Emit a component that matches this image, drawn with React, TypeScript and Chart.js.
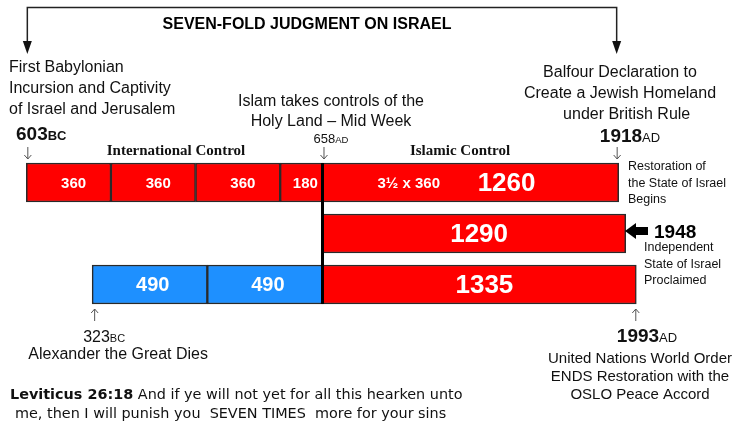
import React, { useEffect, useRef } from 'react';
import { Chart, registerables } from 'chart.js';
Chart.register(...registerables);

// Rows of the timeline (hidden category axis)
const rows = ['Seven Times', 'Abomination', 'Blessed'];
// Years in astronomical numbering: 603 BC = -602, 323 BC = -322
const segRow = [0, 0, 0, 0, 0, 1, 2, 2, 2];
const segStart = [-602, -242, 118, 478, 658, 658, -322, 168, 658];
const segEnd = [-242, 118, 478, 658, 1918, 1948, 168, 658, 1993];
const segLabel = ['360', '360', '360', '180', '1260', '1290', '490', '490', '1335'];
const segKind = ['red', 'red', 'red', 'red', 'red', 'red', 'blue', 'blue', 'red'];
const subLabel = ['', '', '', '', '3½ x 360', '', '', '', ''];

const X_MIN = -714;
const X_MAX = 2498;

const RED = '#FF0000';
const BLUE = '#1E90FF';
const SANS = '"Liberation Sans", Arial, sans-serif';
const SERIF = '"Liberation Serif", "Times New Roman", serif';
const TAHOMA = '"DejaVu Sans", Verdana, sans-serif';

const labelSize = [15, 15, 15, 15, 26, 26, 20, 20, 26];
const labelDx = [5, 5, 5, 4, 36, 5, 3, 3, 5];

type Part = { text: string; font: string };

function rich(ctx: CanvasRenderingContext2D, parts: Part[], x: number, y: number, align: 'left' | 'center' | 'right') {
  let w = 0;
  parts.forEach((p) => {
    ctx.font = p.font;
    w += ctx.measureText(p.text).width;
  });
  let sx = align === 'center' ? x - w / 2 : align === 'right' ? x - w : x;
  ctx.textAlign = 'left';
  parts.forEach((p) => {
    ctx.font = p.font;
    ctx.fillText(p.text, sx, y);
    sx += ctx.measureText(p.text).width;
  });
}

function thinArrow(ctx: CanvasRenderingContext2D, x: number, y1: number, y2: number) {
  ctx.save();
  ctx.strokeStyle = '#555';
  ctx.lineWidth = 1;
  ctx.beginPath();
  ctx.moveTo(x + 0.5, y1);
  ctx.lineTo(x + 0.5, y2);
  const d = y2 > y1 ? -1 : 1;
  ctx.moveTo(x + 0.5 - 3.5, y2 + d * 4);
  ctx.lineTo(x + 0.5, y2);
  ctx.lineTo(x + 0.5 + 3.5, y2 + d * 4);
  ctx.stroke();
  ctx.restore();
}

function lines(ctx: CanvasRenderingContext2D, texts: string[], x: number, y0: number, dy: number, font: string, align: CanvasTextAlign) {
  ctx.font = font;
  ctx.textAlign = align;
  texts.forEach((t, i) => ctx.fillText(t, x, y0 + i * dy));
}

const overlay = {
  id: 'overlay',
  afterDatasetsDraw(chart: any) {
    const ctx: CanvasRenderingContext2D = chart.ctx;
    const xs = chart.scales.x;
    ctx.save();
    // central dividing line at 658 AD
    const xm = xs.getPixelForValue(658);
    const m0 = chart.getDatasetMeta(4).data[0] as any;
    const m2 = chart.getDatasetMeta(8).data[2] as any;
    ctx.strokeStyle = '#000';
    ctx.lineWidth = 3;
    ctx.beginPath();
    ctx.moveTo(xm, m0.y - m0.height / 2);
    ctx.lineTo(xm, m2.y + m2.height / 2);
    ctx.stroke();
    // labels in bars
    ctx.fillStyle = '#fff';
    ctx.textBaseline = 'middle';
    segLabel.forEach((lab, i) => {
      const el = chart.getDatasetMeta(i).data[segRow[i]] as any;
      const cx = (el.x + el.base) / 2 + labelDx[i];
      ctx.font = `bold ${labelSize[i]}px ${SANS}`;
      ctx.textAlign = 'center';
      ctx.fillText(lab, cx, el.y + 1);
      if (subLabel[i]) {
        ctx.font = `bold 15px ${SANS}`;
        ctx.textAlign = 'left';
        ctx.fillText(subLabel[i], Math.min(el.x, el.base) + 55, el.y + 1);
      }
    });
    ctx.restore();
  },
  afterDraw(chart: any) {
    const ctx: CanvasRenderingContext2D = chart.ctx;
    const xs = chart.scales.x;
    ctx.save();
    ctx.textBaseline = 'alphabetic';
    ctx.fillStyle = '#000';

    // Title
    ctx.font = `bold 16px ${SANS}`;
    ctx.textAlign = 'center';
    ctx.fillText('SEVEN-FOLD JUDGMENT ON ISRAEL', 307, 29);

    // Bracket with arrows
    const bx1 = xs.getPixelForValue(-602) + 1;
    const bx2 = xs.getPixelForValue(1918) - 2;
    ctx.strokeStyle = '#222';
    ctx.lineWidth = 1.5;
    ctx.beginPath();
    ctx.moveTo(bx1, 44);
    ctx.lineTo(bx1, 7.5);
    ctx.lineTo(bx2, 7.5);
    ctx.lineTo(bx2, 44);
    ctx.stroke();
    ctx.fillStyle = '#111';
    [bx1, bx2].forEach((bx) => {
      ctx.beginPath();
      ctx.moveTo(bx - 4.5, 41);
      ctx.lineTo(bx + 4.5, 41);
      ctx.lineTo(bx, 54);
      ctx.closePath();
      ctx.fill();
    });

    ctx.fillStyle = '#111';
    // Left block
    lines(ctx, ['First Babylonian', 'Incursion and Captivity', 'of Israel and Jerusalem'], 9, 72, 21, `16px ${SANS}`, 'left');
    rich(ctx, [{ text: '603', font: `bold 19px ${SANS}` }, { text: 'BC', font: `bold 13px ${SANS}` }], 16, 140, 'left');
    thinArrow(ctx, xs.getPixelForValue(-602) + 1, 147, 159);

    // Section headers
    ctx.font = `bold 15px ${SERIF}`;
    ctx.textAlign = 'center';
    ctx.fillText('International Control', 176, 155);
    ctx.fillText('Islamic Control', 460, 155);

    // Islam
    lines(ctx, ['Islam takes controls of the', 'Holy Land – Mid Week'], 331, 106, 20, `16px ${SANS}`, 'center');
    rich(ctx, [{ text: '658', font: `13px ${SANS}` }, { text: 'AD', font: `9.5px ${SANS}` }], 331, 143, 'center');
    thinArrow(ctx, xs.getPixelForValue(658) + 1, 147, 159);

    // Balfour
    lines(ctx, ['Balfour Declaration to', 'Create a Jewish Homeland', '   under British Rule'], 620, 77, 21, `16px ${SANS}`, 'center');
    rich(ctx, [{ text: '1918', font: `bold 19px ${SANS}` }, { text: 'AD', font: `13px ${SANS}` }], 630, 142, 'center');
    thinArrow(ctx, xs.getPixelForValue(1918) - 2, 147, 159);

    // Restoration
    lines(ctx, ['Restoration of', 'the State of Israel', 'Begins'], 628, 170, 16.5, `12.5px ${SANS}`, 'left');

    // 1948 block arrow
    ctx.fillStyle = '#000';
    ctx.beginPath();
    ctx.moveTo(625, 231);
    ctx.lineTo(636, 223);
    ctx.lineTo(636, 227);
    ctx.lineTo(648, 227);
    ctx.lineTo(648, 235);
    ctx.lineTo(636, 235);
    ctx.lineTo(636, 239);
    ctx.closePath();
    ctx.fill();
    ctx.font = `bold 19px ${SANS}`;
    ctx.textAlign = 'left';
    ctx.fillText('1948', 654, 238);
    ctx.fillStyle = '#111';
    lines(ctx, ['Independent', 'State of Israel', 'Proclaimed'], 644, 251, 16.5, `12.5px ${SANS}`, 'left');

    // 323 BC
    const x323 = xs.getPixelForValue(-322);
    thinArrow(ctx, x323 + 2, 321, 309);
    rich(ctx, [{ text: '323', font: `16px ${SANS}` }, { text: 'BC', font: `11px ${SANS}` }], x323 + 12, 342, 'center');
    lines(ctx, ['Alexander the Great Dies'], x323 + 26, 359, 18, `16px ${SANS}`, 'center');

    // 1993 AD
    const x1993 = xs.getPixelForValue(1993);
    thinArrow(ctx, x1993 - 1, 321, 309);
    rich(ctx, [{ text: '1993', font: `bold 19px ${SANS}` }, { text: 'AD', font: `13px ${SANS}` }], 647, 342, 'center');
    lines(ctx, ['United Nations World Order', 'ENDS Restoration with the', 'OSLO Peace Accord'], 640, 363, 18, `15px ${SANS}`, 'center');

    // Leviticus
    rich(ctx, [
      { text: 'Leviticus 26:18', font: `bold 14.4px ${TAHOMA}` },
      { text: ' And if ye will not yet for all this hearken unto', font: `14.4px ${TAHOMA}` },
    ], 10, 399, 'left');
    ctx.font = `14.4px ${TAHOMA}`;
    ctx.textAlign = 'left';
    ctx.fillText('me, then I will punish you  SEVEN TIMES  more for your sins', 15, 418);

    ctx.restore();
  },
};

export default function App() {
  const ref = useRef<HTMLCanvasElement | null>(null);
  useEffect(() => {
    document.body.style.margin = '0';
    if (!ref.current) return;
    const datasets = segLabel.map((lab, i) => ({
      label: lab,
      data: rows.map((_, r) => (r === segRow[i] ? [segStart[i], segEnd[i]] : null)),
      backgroundColor: segKind[i] === 'red' ? RED : BLUE,
      borderColor: '#2a2a2a',
      borderWidth: 1.5,
      borderSkipped: false,
      grouped: false,
      barThickness: 39,
    }));
    const chart = new Chart(ref.current, {
      type: 'bar',
      data: { labels: rows, datasets: datasets as any },
      options: {
        indexAxis: 'y',
        animation: false,
        responsive: true,
        maintainAspectRatio: false,
        devicePixelRatio: 1,
        layout: { padding: { top: 157, bottom: 113, left: 0, right: 0 } },
        scales: {
          x: { type: 'linear', min: X_MIN, max: X_MAX, display: false },
          y: { type: 'category', display: false },
        },
        plugins: { legend: { display: false }, tooltip: { enabled: false } },
      },
      plugins: [overlay],
    });
    return () => chart.destroy();
  }, []);
  return (
    <div style={{ position: 'relative', width: 755, height: 423, background: '#fff' }}>
      <canvas ref={ref} />
    </div>
  );
}
